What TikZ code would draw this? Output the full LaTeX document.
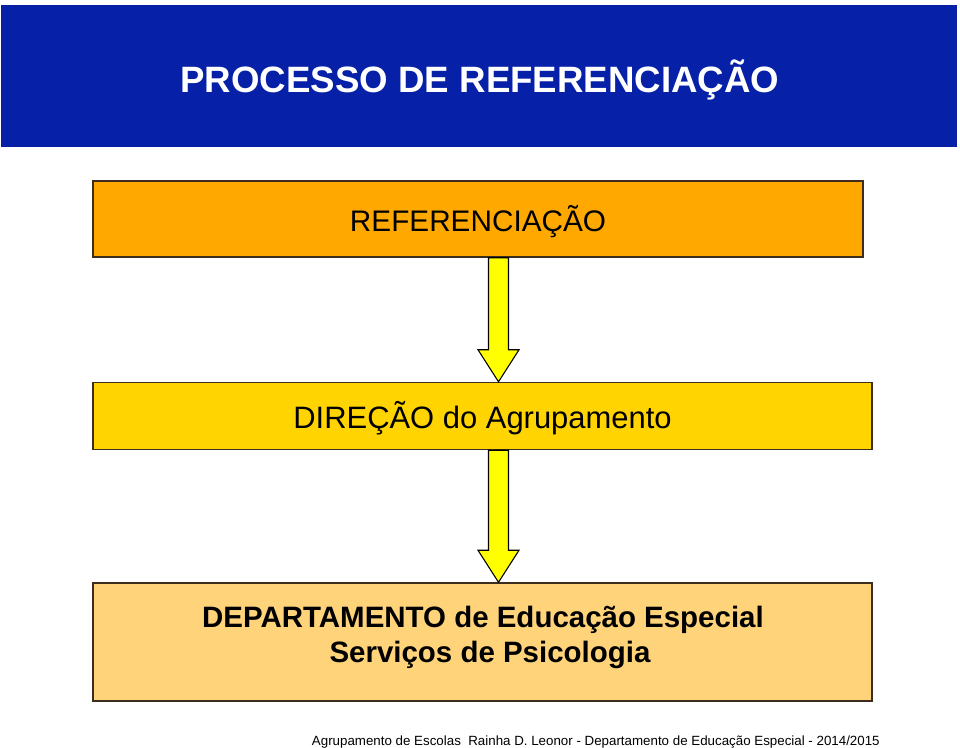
\documentclass[tikz,border=0pt]{standalone}
\usepackage{fontspec}
\setmainfont{Liberation Sans}
\usetikzlibrary{calc}
\definecolor{hdrblue}{RGB}{6,32,168}
\definecolor{boxorange}{RGB}{255,168,0}
\definecolor{boxgold}{RGB}{255,212,0}
\definecolor{boxlight}{RGB}{255,211,122}
\definecolor{edgebrown}{RGB}{60,45,30}
\definecolor{arrowyellow}{RGB}{255,255,0}
\tikzset{
  flowbox/.style={draw=edgebrown, line width=1.1pt},
  blockarrow/.style={draw=black, line width=0.8pt, fill=arrowyellow, line join=miter},
  lbl/.style={inner sep=0pt, anchor=base}
}
\begin{document}
\begin{tikzpicture}[x=0.75pt,y=-0.75pt]
\useasboundingbox (0,0) rectangle (960,747);
% header
\fill[hdrblue] (1,5) rectangle (957,147);
\node[lbl, text=white, font=\fontsize{27.5}{30}\selectfont\bfseries] (title) at (480,92) {PROCESSO DE REFERENCIAÇÃO};
% boxes
\node[flowbox, fill=boxorange, minimum width=770*0.75pt, minimum height=76*0.75pt, inner sep=0pt] (b1) at (478,219) {};
\node[flowbox, fill=boxgold, minimum width=779*0.75pt, minimum height=67*0.75pt, inner sep=0pt] (b2) at (482.5,416) {};
\node[flowbox, fill=boxlight, minimum width=779*0.75pt, minimum height=118*0.75pt, inner sep=0pt] (b3) at (482.5,642) {};
% labels
\node[lbl, font=\fontsize{22.3}{26}\selectfont] (t1) at (478,231) {REFERENCIAÇÃO};
\node[lbl, font=\fontsize{23.2}{26}\selectfont] (t2) at (482.5,428) {DIREÇÃO do Agrupamento};
\node[lbl, font=\fontsize{22.1}{26}\selectfont\bfseries] (t3a) at (483,627) {DEPARTAMENTO de Educação Especial};
\node[lbl, font=\fontsize{22.1}{26}\selectfont\bfseries] (t3b) at (490,662) {Serviços de Psicologia};
% arrows
\coordinate (ax) at (498.5,0);
\draw[blockarrow] ($(ax |- b1.south)+(-10,0)$) -- ($(ax |- b2.north)+(-10,-32)$) -- ($(ax |- b2.north)+(-20.5,-32)$)
  -- (ax |- b2.north) -- ($(ax |- b2.north)+(20.5,-32)$) -- ($(ax |- b2.north)+(10,-32)$) -- ($(ax |- b1.south)+(10,0)$) -- cycle;
\draw[blockarrow] ($(ax |- b2.south)+(-10,0)$) -- ($(ax |- b3.north)+(-10,-32)$) -- ($(ax |- b3.north)+(-20.5,-32)$)
  -- (ax |- b3.north) -- ($(ax |- b3.north)+(20.5,-32)$) -- ($(ax |- b3.north)+(10,-32)$) -- ($(ax |- b2.south)+(10,0)$) -- cycle;
% footer
\node[lbl, anchor=base east, font=\fontsize{10}{12}\selectfont] (foot) at (880,745) {Agrupamento de Escolas\ \ Rainha D. Leonor - Departamento de Educação Especial - 2014/2015};
\end{tikzpicture}
\end{document}
